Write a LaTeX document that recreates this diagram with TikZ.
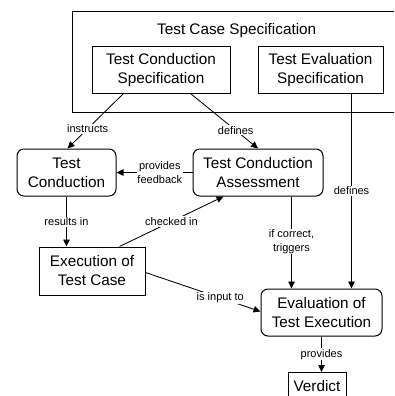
\documentclass[tikz,border=0pt]{standalone}
\usepackage{fontspec}
\setmainfont{Liberation Sans}
\usetikzlibrary{arrows.meta,calc}
\begin{document}
\begin{tikzpicture}[x=1pt,y=-1pt,
  box/.style={draw,line width=1pt,inner sep=0pt,align=center,font=\fontsize{15.3}{19}\selectfont},
  rbox/.style={box,rounded corners=7pt},
  conn/.style={line width=0.85pt,-{Triangle[length=7pt,width=6.5pt]}},
  lbl/.style={fill=white,inner sep=1pt,align=center,font=\fontsize{11}{13.5}\selectfont}]
\clip (0,0) rectangle (394,396);
\useasboundingbox (0,0) rectangle (394,396);
% container
\node[box,minimum width=340pt,minimum height=100.5pt,anchor=north west] (spec) at (72,11) {};
\node[font=\fontsize{15.3}{19}\selectfont] (spectitle) at (236.7,31) {Test Case Specification};
\node[box,minimum width=138pt,minimum height=46pt] (tcs) at (161,70) {Test Conduction\\Specification};
\node[box,minimum width=125pt,minimum height=46pt] (tes) at (320.5,70) {Test Evaluation\\Specification};
% main nodes
\node[rbox,minimum width=99pt,minimum height=47pt] (tc) at (66.5,172.5) {Test\\Conduction};
\node[rbox,minimum width=130pt,minimum height=47pt] (tca) at (258,172.5) {Test Conduction\\Assessment};
\node[box,minimum width=106pt,minimum height=48pt] (etc) at (92,271) {Execution of\\Test Case};
\node[rbox,minimum width=121pt,minimum height=47pt] (evte) at (321.5,312.5) {Evaluation of\\Test Execution};
\node[box,minimum width=58pt,minimum height=40pt,anchor=north] (verdict) at (317,372) {};
\node[font=\fontsize{15.3}{19}\selectfont] (verdicttext) at (317,386) {Verdict};
% connectors
\draw[conn] ($(tcs.south west)+(32,0)$) -- node[lbl,pos=0.64]{instructs} ($(tc.north west)+(51,0)$);
\draw[conn] ($(tcs.south west)+(99,0)$) -- node[lbl,pos=0.67]{defines} (tca.north);
\draw[conn] ($(tes.south west)+(94,0)$) -- node[lbl,pos=0.5]{defines} ($(evte.north west)+(91,0)$);
\draw[conn] ($(tca.south west)+(99,0)$) -- node[lbl,pos=0.49]{if correct,\\triggers} ($(evte.north west)+(31,0)$);
\draw[conn] (tca.west) -- node[lbl,pos=0.43]{provides\\feedback} (tc.east);
\draw[conn] ($(tc.south west)+(50,0)$) -- node[lbl,pos=0.51]{results in} ($(etc.north west)+(28,0)$);
\draw[conn] ($(etc.north west)+(81,0)$) -- node[lbl,pos=0.5]{checked in} ($(tca.south west)+(31,0)$);
\draw[conn] ($(etc.north east)+(0,26)$) -- node[lbl,pos=0.65]{is input to} ($(evte.north west)+(0,23)$);
\draw[conn] (evte.south) -- node[lbl,pos=0.5]{provides} (evte.south |- verdict.north);
\end{tikzpicture}
\end{document}
